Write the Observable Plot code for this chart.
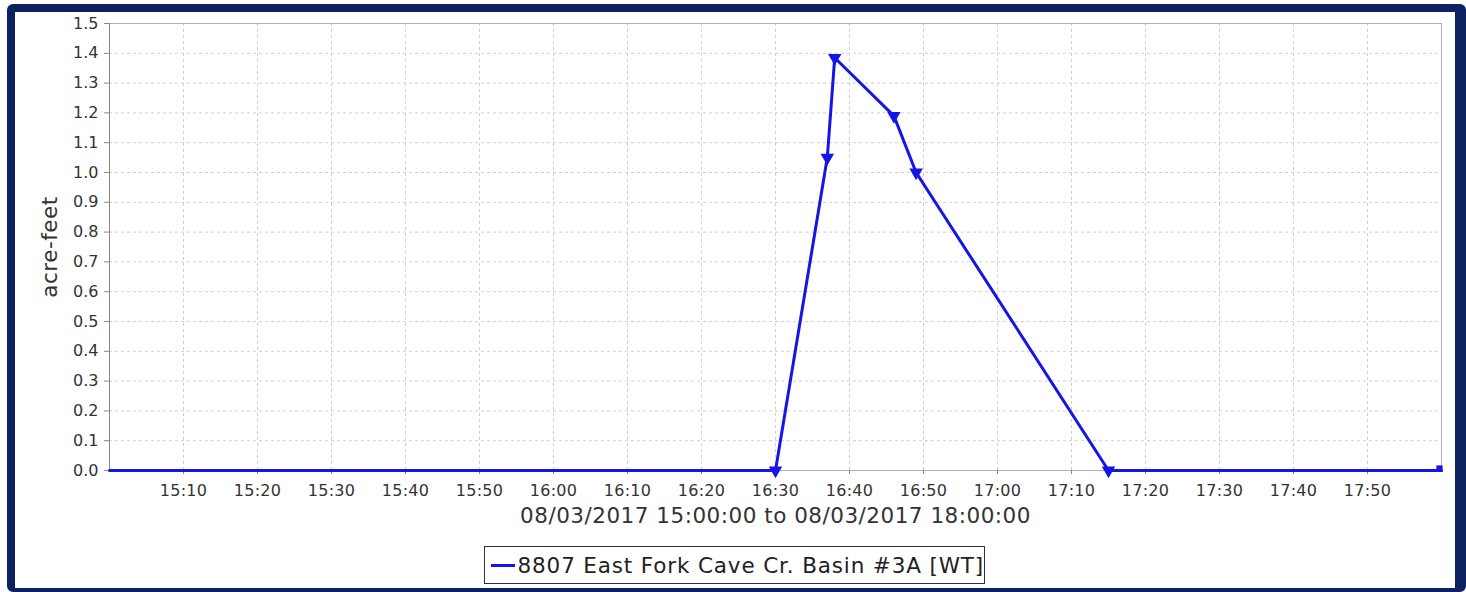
<!DOCTYPE html>
<html><head><meta charset="utf-8">
<script src="https://cdn.jsdelivr.net/npm/d3@7"></script>
<script src="https://cdn.jsdelivr.net/npm/@observablehq/plot@0.6"></script>
<style>
body{margin:0;background:#fff;width:1466px;height:592px;overflow:hidden;position:relative;font-family:"DejaVu Sans",sans-serif}
#chart{position:absolute;left:0;top:0}
#border{position:absolute;left:7px;top:4px;width:1459px;height:588px;box-sizing:border-box;border-style:solid;border-color:#0c2260;border-width:8px 11px 4px 8px;border-radius:6px;pointer-events:none}
#legend{position:absolute;left:484px;top:546px;width:501px;height:38px;box-sizing:border-box;border:1.5px solid #333;display:flex;align-items:center;font-size:21.5px;letter-spacing:0.85px;color:#222;white-space:nowrap}
#legend .sw{display:inline-block;width:26px;height:3px;background:#1515e8;margin:0 3px 0 6px}
</style></head><body>
<div id="chart"></div>
<div id="legend"><span class="sw"></span><span id="legendText"></span></div>
<div id="border"></div>
<script>
const seriesName = "8807 East Fork Cave Cr. Basin #3A [WT]";
const times = ["15:00","16:30","16:37","16:38","16:46","16:49","17:15","18:00"];
const values = [0, 0, 1.05, 1.385, 1.19, 1.0, 0, 0];
const xTickLabels = ["15:10","15:20","15:30","15:40","15:50","16:00","16:10","16:20","16:30","16:40","16:50","17:00","17:10","17:20","17:30","17:40","17:50"];
const yTicks = [0.0,0.1,0.2,0.3,0.4,0.5,0.6,0.7,0.8,0.9,1.0,1.1,1.2,1.3,1.4,1.5];
const xDomain = ["15:00","18:00"];
const xTitle = "08/03/2017 15:00:00 to 08/03/2017 18:00:00";
const yTitle = "acre-feet";

const parse = d3.utcParse("%H:%M");
const data = times.map((t, i) => ({t: parse(t), v: values[i], i}));
const xTicks = xTickLabels.map(parse);
const blue = "#1515e8";

const chart = Plot.plot({
  width: 1466,
  height: 535,
  marginLeft: 109,
  marginRight: 25,
  marginTop: 23,
  marginBottom: 65,
  style: {fontFamily: "DejaVu Sans", background: "transparent", overflow: "visible"},
  x: {type: "utc", domain: xDomain.map(parse)},
  y: {domain: [0, 1.5]},
  marks: [
    Plot.gridX(xTicks, {stroke: "#cfcfcf", strokeOpacity: 1, strokeDasharray: "3,3"}),
    Plot.gridY(yTicks.slice(1), {stroke: "#cfcfcf", strokeOpacity: 1, strokeDasharray: "3,3"}),
    Plot.frame({stroke: "#b0b0b0"}),
    Plot.ruleX([parse(xDomain[0])], {stroke: "#888"}),
    Plot.axisX({ticks: xTicks, tickFormat: d3.utcFormat("%H:%M"), tickSize: 4, tickPadding: 10, fontSize: 16, stroke: "#888", fill: "#333", label: null}),
    Plot.axisY({ticks: yTicks, tickFormat: d => d.toFixed(1), tickSize: 5, tickPadding: 6, fontSize: 16, stroke: "#888", fill: "#333", label: null}),
    Plot.line(data, {x: "t", y: "v", stroke: blue, strokeWidth: 3}),
    Plot.dot(data.filter(d => d.i > 0 && d.i < data.length - 1), {x: "t", y: "v", symbol: "triangle", rotate: 180, r: 5, fill: blue, stroke: null}),
    Plot.dot(data.filter(d => d.i === data.length - 1), {x: "t", y: "v", symbol: "square", r: 3.5, fill: blue, stroke: null, dx: -2, dy: -2}),
    Plot.text([xTitle], {text: d => d, frameAnchor: "bottom", dy: 52, fontSize: 21.5, fill: "#333"}),
    Plot.text([yTitle], {text: d => d, frameAnchor: "left", textAnchor: "middle", dx: -59, rotate: -90, fontSize: 21.5, fill: "#333"})
  ]
});
document.getElementById("chart").appendChild(chart);
d3.select(chart).selectAll("text")
  .filter(function() { return this.textContent === xTitle || this.textContent === yTitle; })
  .style("letter-spacing", "0.5px");
d3.select(chart).selectAll("text")
  .filter(function() { return xTickLabels.includes(this.textContent); })
  .style("letter-spacing", "0.3px");
document.getElementById("legendText").textContent = seriesName;
</script>
</body></html>
